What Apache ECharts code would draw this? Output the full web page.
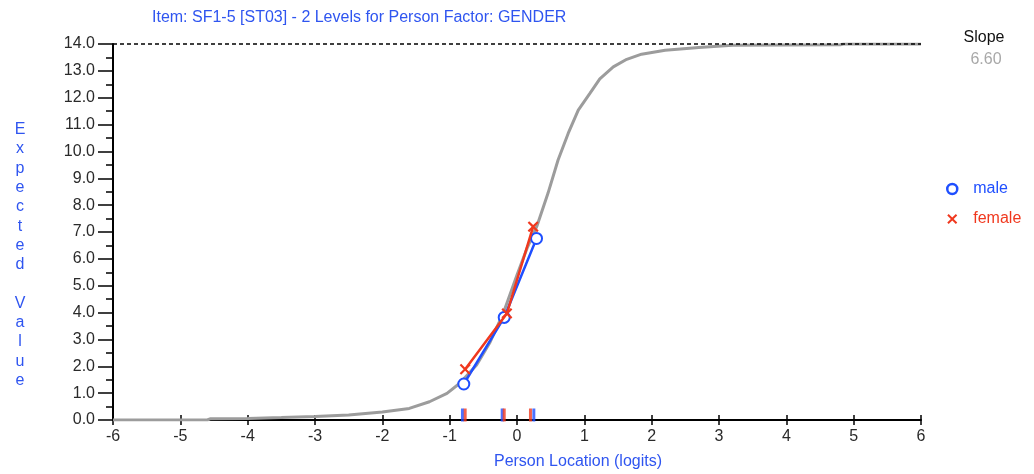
<!DOCTYPE html>
<html>
<head>
<meta charset="utf-8">
<script src="https://cdn.jsdelivr.net/npm/echarts@6/dist/echarts.min.js"></script>
<style>html,body{margin:0;padding:0;background:#fff}#c{width:1034px;height:474px}</style>
</head>
<body>
<div id="c"></div>
<script>
// ---- data ----
const titleText = 'Item: SF1-5 [ST03] - 2 Levels for Person Factor: GENDER';
const xTicks = [-6, -5, -4, -3, -2, -1, 0, 1, 2, 3, 4, 5, 6];
const yMax = 14;
// expected value curve (ICC)
const curveX = [-6, -4.6, -4.55, -4, -3.5, -3, -2.5, -2, -1.6, -1.3, -1.04, -0.85, -0.6, -0.4, -0.2, 0, 0.15, 0.3, 0.46, 0.61, 0.76, 0.91, 1.08, 1.23, 1.43, 1.63, 1.85, 2.2, 2.7, 3.2, 4, 4.8, 4.85, 6];
const curveY = [0, 0, 0.05, 0.06, 0.09, 0.13, 0.19, 0.3, 0.43, 0.68, 0.99, 1.37, 2.05, 2.9, 4.0, 5.4, 6.4, 7.25, 8.44, 9.68, 10.67, 11.54, 12.15, 12.7, 13.15, 13.43, 13.62, 13.77, 13.87, 13.95, 13.96, 13.97, 14.0, 14.0];
// class interval observed means
const maleX = [-0.79, -0.19, 0.29];
const maleY = [1.34, 3.82, 6.76];
const femaleX = [-0.77, -0.15, 0.24];
const femaleY = [1.89, 3.97, 7.2];
// class interval location markers on the x axis
const maleTickX = [-0.81, -0.22, 0.25];
const femaleTickX = [-0.77, -0.19, 0.20];
const slopeValue = '6.60';
const groups = ['male', 'female'];

const BLUE = '#1f4fff';
const RED = '#f0381e';
const TXT_BLUE = '#2f55f0';
const FONT = '"Liberation Sans", Arial, sans-serif';
const FS = 16;
const XPATH = 'path://M0,1.4 L1.4,0 L5,3.6 L8.6,0 L10,1.4 L6.4,5 L10,8.6 L8.6,10 L5,6.4 L1.4,10 L0,8.6 L3.6,5 Z';

const zip = (a, b) => a.map((v, i) => [v, b[i]]);

const chart = echarts.init(document.getElementById('c'), null, {renderer: 'canvas'});
chart.setOption({
  animation: false,
  textStyle: {fontFamily: FONT},
  title: {
    text: titleText, left: 147, top: 5,
    textStyle: {color: TXT_BLUE, fontSize: FS, fontWeight: 'normal', fontFamily: FONT}
  },
  grid: {left: 113, right: 113, top: 44, bottom: 54},
  legend: {
    orient: 'vertical', left: 941, top: 176, itemGap: 14, itemWidth: 10, itemHeight: 10,
    textStyle: {fontSize: FS, fontFamily: FONT, padding: [0, 0, 0, 11]}, selectedMode: false,
    data: [
      {name: groups[0], icon: 'circle', itemStyle: {color: 'rgba(255,255,255,0)', borderColor: BLUE, borderWidth: 2.5}, textStyle: {color: BLUE}},
      {name: groups[1], icon: XPATH, itemStyle: {color: RED, borderWidth: 0}, textStyle: {color: RED}}
    ]
  },
  xAxis: [{
    type: 'value', min: xTicks[0], max: xTicks[xTicks.length - 1], interval: 1,
    axisLine: {onZero: false, lineStyle: {color: '#000', width: 2}},
    axisTick: {show: true, length: 5, lineStyle: {color: '#000', width: 1.5}},
    axisLabel: {margin: 9, color: '#2a2a2a', fontSize: FS, fontFamily: FONT},
    splitLine: {show: false}
  }, {
    type: 'value', min: xTicks[0], max: xTicks[xTicks.length - 1], interval: 1, position: 'bottom', offset: 0,
    axisLine: {show: false},
    axisTick: {show: true, inside: true, length: 5, lineStyle: {color: '#000', width: 1.5}},
    axisLabel: {show: false}, splitLine: {show: false}
  }],
  yAxis: {
    type: 'value', min: 0, max: yMax, interval: 1,
    axisLine: {show: true, onZero: false, lineStyle: {color: '#000', width: 2}},
    axisTick: {show: true, length: 15, lineStyle: {color: '#000', width: 1.5}},
    minorTick: {show: true, splitNumber: 2, length: 7, lineStyle: {color: '#000', width: 1.5}},
    axisLabel: {margin: 18, color: '#2a2a2a', fontSize: FS, fontFamily: FONT, formatter: v => v.toFixed(1)},
    splitLine: {show: false}
  },
  graphic: [
    {type: 'text', x: 20, y: 120, style: {text: 'Expected Value'.split('').join('\n'), align: 'center', verticalAlign: 'top', lineHeight: 19.3, fill: TXT_BLUE, font: FS + 'px ' + FONT}},
    {type: 'text', x: 578, y: 454, style: {text: 'Person Location (logits)', align: 'center', verticalAlign: 'top', fill: TXT_BLUE, font: FS + 'px ' + FONT}},
    {type: 'text', x: 984, y: 30, style: {text: 'Slope', align: 'center', verticalAlign: 'top', fill: '#111', font: FS + 'px ' + FONT}},
    {type: 'text', x: 986, y: 52, style: {text: slopeValue, align: 'center', verticalAlign: 'top', fill: '#a8a8a8', font: FS + 'px ' + FONT}}
  ],
  series: [
    {
      name: 'curve', type: 'line', data: zip(curveX, curveY), showSymbol: false, symbol: 'none',
      lineStyle: {color: '#9c9c9c', width: 3}, z: 3, silent: true,
      markLine: {
        symbol: 'none', silent: true, label: {show: false},
        lineStyle: {color: '#000', type: [4, 3], width: 1.5},
        data: [{yAxis: yMax}]
      }
    },
    {
      name: groups[0], type: 'line', data: zip(maleX, maleY), symbol: 'emptyCircle', symbolSize: 11,
      lineStyle: {color: BLUE, width: 2.5}, itemStyle: {color: BLUE, borderWidth: 2.2}, z: 5
    },
    {
      name: groups[1], type: 'line', data: zip(femaleX, femaleY), symbol: XPATH, symbolSize: 11,
      lineStyle: {color: RED, width: 2.5}, itemStyle: {color: RED}, z: 6
    },
    {
      name: 'male loc', type: 'scatter', data: maleTickX.map(v => [v, 0]), symbol: 'rect', symbolSize: [3, 13],
      symbolOffset: [0, -5], itemStyle: {color: BLUE}, z: 7, silent: true
    },
    {
      name: 'female loc', type: 'scatter', data: femaleTickX.map(v => [v, 0]), symbol: 'rect', symbolSize: [3, 13],
      symbolOffset: [0, -5], itemStyle: {color: RED}, z: 7, silent: true
    }
  ]
});
</script>
</body>
</html>
